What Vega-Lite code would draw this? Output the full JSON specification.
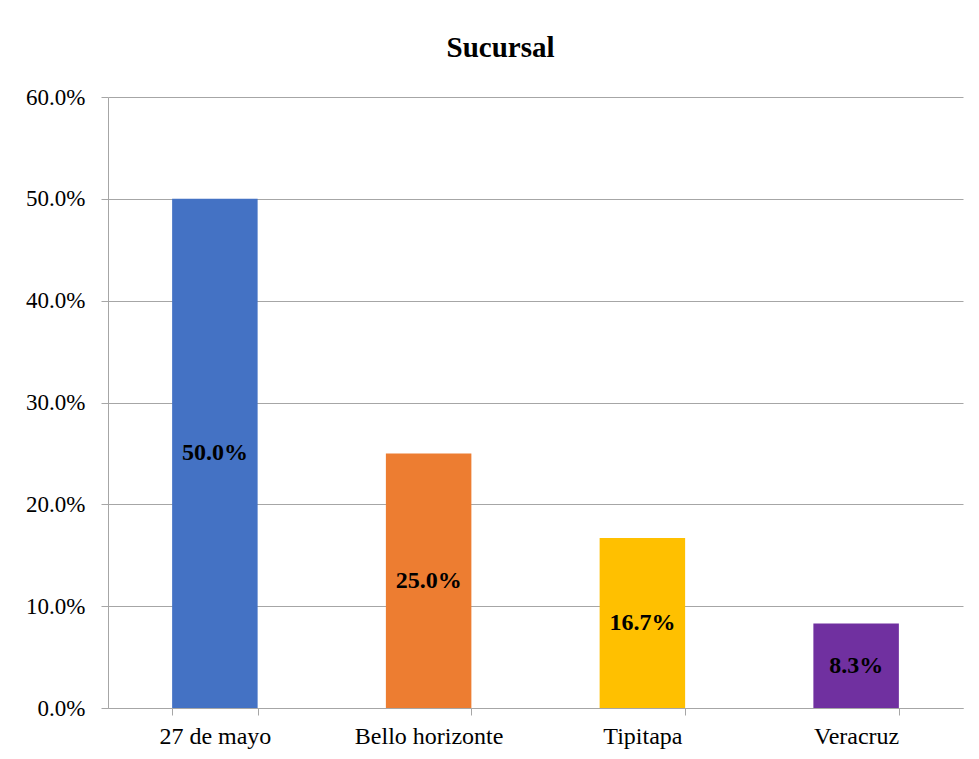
{
  "$schema": "https://vega.github.io/schema/vega-lite/v6.json",
  "width": 855,
  "height": 611,
  "autosize": "none",
  "padding": {"left": 108, "top": 97, "right": 16, "bottom": 51},
  "background": "white",
  "title": {
    "text": "Sucursal",
    "font": "Liberation Serif",
    "fontSize": 29,
    "fontWeight": "bold",
    "color": "black",
    "anchor": "middle",
    "dx": -35,
    "offset": 23
  },
  "data": {
    "values": [
      {"sucursal": "27 de mayo", "pct": 0.5},
      {"sucursal": "Bello horizonte", "pct": 0.25},
      {"sucursal": "Tipitapa", "pct": 0.167},
      {"sucursal": "Veracruz", "pct": 0.083}
    ]
  },
  "transform": [{"calculate": "datum.pct / 2", "as": "mid"}],
  "encoding": {
    "x": {
      "field": "sucursal",
      "type": "nominal",
      "sort": null,
      "title": null,
      "scale": {"paddingInner": 0.6, "paddingOuter": 0.3},
      "axis": {
        "labelAngle": 0,
        "tickBand": "extent",
        "tickSize": 7,
        "tickColor": "#A6A6A6",
        "domainColor": "#A6A6A6",
        "labelFont": "Liberation Serif",
        "labelFontSize": 24,
        "labelColor": "black",
        "labelPadding": 9,
        "grid": false
      }
    }
  },
  "layer": [
    {
      "mark": {"type": "bar"},
      "encoding": {
        "y": {
          "field": "pct",
          "type": "quantitative",
          "title": null,
          "scale": {"domain": [0, 0.6]},
          "axis": {
            "format": ".1%",
            "values": [0, 0.1, 0.2, 0.3, 0.4, 0.5, 0.6],
            "tickSize": 7,
            "tickColor": "#A6A6A6",
            "domainColor": "#A6A6A6",
            "gridColor": "#A6A6A6",
            "labelFont": "Liberation Serif",
            "labelFontSize": 23,
            "labelColor": "black",
            "labelPadding": 16
          }
        },
        "color": {
          "field": "sucursal",
          "type": "nominal",
          "sort": null,
          "legend": null,
          "scale": {
            "domain": ["27 de mayo", "Bello horizonte", "Tipitapa", "Veracruz"],
            "range": ["#4472C4", "#ED7D31", "#FFC000", "#7030A0"]
          }
        }
      }
    },
    {
      "mark": {
        "type": "text",
        "font": "Liberation Serif",
        "fontSize": 24,
        "fontWeight": "bold",
        "color": "black",
        "baseline": "middle"
      },
      "encoding": {
        "y": {"field": "mid", "type": "quantitative"},
        "text": {"field": "pct", "type": "quantitative", "format": ".1%"}
      }
    }
  ],
  "config": {
    "view": {"stroke": null}
  }
}
